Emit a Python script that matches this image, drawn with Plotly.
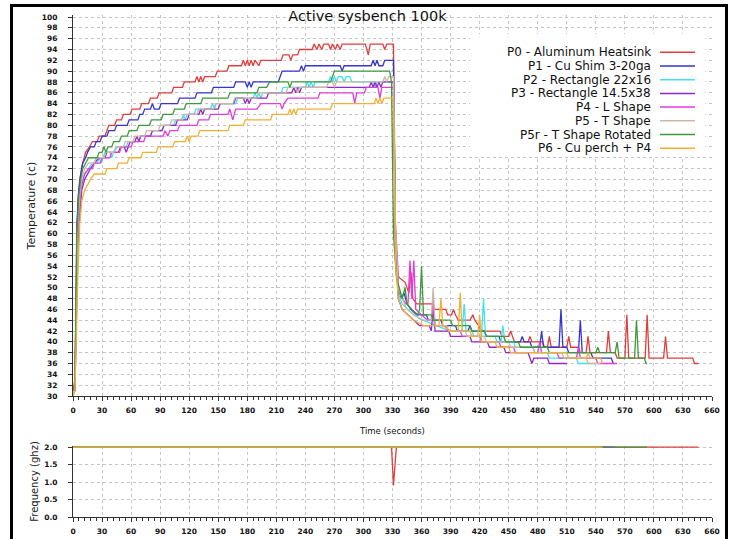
import plotly.graph_objects as go

# ---------------- data ----------------
series_names = [
    "P0 - Aluminum Heatsink", "P1 - Cu Shim 3-20ga", "P2 - Rectangle 22x16",
    "P3 - Rectangle 14.5x38", "P4 - L Shape", "P5 - T Shape",
    "P5r - T Shape Rotated", "P6 - Cu perch + P4",
]
series_colors = ["#e23c3c", "#3535d0", "#3fe3f0", "#9326c8",
                 "#e03ce0", "#cbb9a5", "#3c9a3c", "#f0b030"]

p0_t = [0, 2, 5, 7, 10, 13, 17, 20, 25, 27, 33, 35, 37, 43, 45, 50, 52, 59, 61, 69, 71, 78, 80, 87, 89, 102, 104,
        113, 115, 126, 128, 130, 132, 134, 136, 147, 149, 159, 161, 174, 176, 178, 180, 182, 184, 186, 188, 192,
        194, 215, 217, 223, 225, 227, 232, 234, 247, 249, 252, 254, 257, 259, 264, 266, 268, 271, 273, 276, 278,
        302, 305, 307, 320, 322, 324, 331,
        333, 336, 343, 347, 349, 351, 355, 371, 373, 385, 387, 391, 393, 395, 398, 410, 413, 415, 419, 422, 441,
        443, 450, 452, 454, 456, 470, 472, 474, 485, 487, 490, 492, 494, 510, 512, 514, 522, 524, 530, 532, 534,
        551, 553, 555, 560, 562, 570, 572, 574, 591, 593, 595, 610, 612, 614, 640, 642, 646]
p0_c = [31, 33, 66, 70, 73, 75, 76, 77, 77, 78, 78, 79, 80, 80, 81, 81, 82, 82, 83, 83, 84, 84, 85, 85, 86, 86, 87,
        87, 88, 88, 89, 88, 89, 88, 89, 89, 90, 90, 91, 91, 92, 91, 92, 91, 92, 91, 92, 91,
        92, 92, 93, 93, 92, 93, 93, 94, 94, 95, 94, 95, 94, 95, 95, 94, 95, 94, 95, 94, 95,
        95, 93, 95, 95, 94, 95, 95,
        62, 52, 51, 49, 53, 48, 47, 47, 46, 46, 45, 45, 46, 45, 44, 44, 45, 44, 43, 42, 42,
        41, 41, 42, 41, 40, 40, 41, 40, 40, 39, 39, 41, 39, 39, 41, 39, 39, 38, 38, 41, 38,
        38, 42, 38, 38, 37, 37, 45, 37, 37, 45, 37, 37, 41, 37, 37, 36, 36]

p1_t = [0, 2, 4, 6, 8, 10, 13, 15, 18, 22, 24, 28, 30, 35, 37, 43, 45, 56, 58, 67, 69, 72, 74, 80, 82, 84, 89, 91,
        108, 110, 126, 128, 143, 145, 166, 168, 178, 180, 182, 184, 186, 212, 214, 216, 234, 236, 238, 240, 276,
        278, 280, 308, 310, 312, 314, 316, 320, 322, 331,
        333, 336, 339, 342, 345, 349, 355, 365, 367, 380, 382, 395, 397, 408, 410, 412, 425, 427, 440, 442, 462,
        464, 466, 472, 474, 482, 484, 486, 502, 504, 506, 510, 512, 522, 524, 526, 535, 537, 556, 558]
p1_c = [31, 32, 62, 68, 71, 73, 74, 75, 76, 76, 77, 77, 78, 78, 79, 79, 80, 80, 81, 81, 82, 82, 83, 83, 84, 83, 83, 84,
        84, 85, 85, 86, 86, 87, 87, 88, 88, 87, 88, 87, 88, 88, 89, 90, 90, 91, 90, 91, 91,
        90, 91, 91, 92, 91, 92, 91, 91, 92, 92,
        60, 50, 48, 49, 47, 46, 45, 45, 44, 44, 43, 43, 42, 42, 43, 42, 42, 41, 41, 40, 40,
        41, 40, 40, 39, 39, 42, 39, 39, 46, 39, 39, 38, 38, 44, 38, 38, 37, 37, 36]

p2_t = [0, 2, 5, 7, 9, 12, 16, 20, 25, 27, 29, 31, 33, 38, 40, 42, 46, 55, 57, 68, 70, 80, 82, 92, 94, 104, 106,
        112, 114, 116, 118, 125, 127, 142, 144, 146, 148, 168, 170, 186, 188, 190, 192, 194, 196, 215, 217, 240,
        242, 244, 246, 248, 250, 264, 266, 268, 270, 272, 274, 278, 280, 282, 286, 288, 310, 312, 314, 331,
        333, 336, 340, 346, 352, 362, 375, 390, 402, 404, 406, 412, 414, 422, 424, 426, 436, 438, 442, 444, 446,
        455, 457, 475, 477, 490, 492, 520, 522, 539]
p2_c = [30, 31, 60, 66, 69, 71, 72, 73, 73, 74, 73, 74, 75, 75, 74, 75, 76, 76, 77, 77, 78, 78, 79, 79, 80, 80, 81,
        81, 82, 81, 82, 82, 83, 83, 84, 83, 84, 84, 85, 85, 86, 85, 86, 85, 86, 86, 87, 87,
        88, 87, 88, 87, 88, 88, 89, 88, 89, 88, 89, 89, 88, 89, 89, 88, 88, 87, 88, 88,
        60, 49, 47, 46, 45, 44, 43, 42, 42, 47, 42, 42, 41, 41, 48, 41, 41, 40, 40, 43, 40,
        40, 39, 39, 38, 38, 37, 37, 36, 36]

p3_t = [0, 2, 5, 7, 9, 12, 15, 18, 22, 27, 33, 35, 47, 49, 53, 55, 57, 59, 64, 66, 68, 70, 80, 82, 92, 94, 106, 108,
        118, 120, 130, 132, 134, 136, 150, 152, 166, 168, 176, 178, 180, 182, 184, 200, 202, 226, 228, 230, 232,
        234, 236, 306, 308, 310, 312, 314, 316, 318, 320, 331,
        333, 336, 340, 346, 352, 358, 368, 370, 372, 374, 388, 390, 410, 412, 428, 430, 445, 447, 470, 472, 474,
        476, 490, 492, 510]
p3_c = [31, 31, 58, 64, 68, 70, 71, 72, 73, 74, 74, 75, 75, 76, 76, 75, 76, 77, 77, 78, 77, 78, 78, 79, 79, 80, 80, 81,
        81, 82, 82, 83, 82, 83, 83, 84, 84, 85, 85, 84, 85, 84, 85, 85, 86, 86, 87, 86, 87,
        86, 87, 87, 88, 87, 88, 87, 88, 87, 88, 88,
        58, 48, 46, 45, 44, 43, 43, 42, 46, 42, 42, 41, 41, 40, 40, 39, 39, 38, 38, 37, 36,
        37, 37, 36, 36]

p4_t = [0, 2, 5, 7, 9, 12, 16, 20, 22, 28, 30, 38, 40, 48, 50, 60, 62, 73, 75, 93, 95, 98, 100, 108, 110, 128, 130,
        140, 142, 160, 162, 165, 168, 190, 194, 214, 216, 218, 222, 253, 255, 289, 291, 293, 301, 303, 315, 317,
        319, 331,
        333, 336, 340, 344, 346, 348, 350, 352, 354, 360, 366, 370, 372, 374, 385, 387, 400, 402, 420, 422, 440,
        442, 455, 457, 480, 482, 484, 500, 502, 520, 522, 524, 540, 542, 562]
p4_c = [31, 32, 60, 66, 69, 71, 72, 72, 73, 73, 74, 74, 75, 75, 76, 76, 77, 77, 78, 78, 79, 78, 79, 79, 80, 80, 81,
        81, 82, 82, 83, 81, 83, 83, 84, 84, 83, 84, 85, 85, 86, 86, 84, 86, 86, 87, 87, 85,
        87, 87,
        60, 50, 48, 47, 47, 55, 48, 55, 46, 45, 44, 44, 48, 43, 43, 42, 42, 41, 41, 40, 40,
        39, 39, 38, 38, 40, 38, 38, 37, 37, 39, 37, 37, 36, 36]

p5_t = [0, 2, 5, 7, 9, 12, 16, 22, 24, 32, 34, 42, 44, 52, 54, 62, 64, 74, 76, 88, 90, 100, 102, 113, 115, 128, 130,
        145, 147, 165, 167, 190, 192, 220, 222, 230, 232, 234, 262, 264, 268, 270, 272, 320, 322, 324, 326, 331,
        333, 336, 340, 345, 352, 360, 370, 372, 374, 386, 388, 405, 407, 425, 427, 450, 452, 475, 477, 505, 507,
        530, 532, 545]
p5_c = [31, 32, 62, 67, 70, 72, 73, 73, 74, 74, 75, 75, 76, 76, 77, 77, 78, 78, 79, 79, 80, 80, 81, 81, 82, 82, 83,
        83, 84, 84, 85, 85, 86, 86, 87, 87, 86, 87, 87, 88, 88, 87, 88, 88, 89, 88, 89, 89,
        62, 50, 48, 46, 45, 44, 44, 50, 43, 43, 42, 42, 41, 41, 40, 40, 39, 39, 38, 38, 37,
        37, 36, 36]

p5r_t = [0, 2, 4, 6, 8, 10, 13, 16, 25, 27, 30, 32, 34, 36, 40, 42, 48, 50, 56, 58, 66, 68, 79, 81, 91, 93, 103,
         105, 115, 117, 132, 134, 160, 162, 190, 192, 200, 203, 222, 224, 226, 266, 268, 270, 327,
         329, 331, 334, 337, 340, 343, 345, 350, 356, 358, 360, 362, 370, 372, 390, 392, 410, 412, 425, 427, 445,
         447, 460, 462, 490, 492, 540, 542, 544, 560, 562, 564, 580, 582, 584, 590, 592, 593]
p5r_c = [31, 32, 60, 67, 70, 72, 73, 74, 74, 75, 75, 76, 75, 76, 76, 77, 77, 78, 78, 79, 79, 80, 80, 81, 81, 82, 82,
         83, 83, 84, 84, 85, 85, 86, 86, 87, 87, 88, 88, 87, 88, 88, 89, 90, 90,
         88, 60, 52, 50, 48, 50, 47, 46, 45, 46, 54, 45, 45, 44, 44, 43, 43, 42, 42, 41, 41,
         40, 40, 39, 39, 38, 38, 39, 38, 38, 40, 37, 37, 44, 37, 37, 36, 36]

p6_t = [0, 2, 5, 7, 9, 12, 15, 18, 22, 33, 35, 45, 47, 56, 58, 70, 72, 86, 88, 103, 105, 116, 118, 120, 122, 129,
        131, 160, 162, 176, 178, 204, 206, 222, 224, 226, 228, 230, 232, 266, 268, 311, 313, 315, 317, 319, 321,
        331,
        333, 336, 340, 346, 352, 362, 378, 380, 382, 390, 398, 400, 402, 410, 412, 418, 420, 422, 436, 438, 450,
        452, 510, 512, 530, 532, 534, 545, 547]
p6_c = [30, 31, 52, 62, 66, 68, 69, 70, 71, 71, 72, 72, 73, 73, 74, 74, 75, 75, 76, 76, 77, 77, 78, 77, 78, 78,
        79, 79, 80, 80, 81, 81, 82, 82, 83, 82, 83, 82, 83, 83, 84, 84, 85, 84, 85, 84, 85,
        85,
        55, 48, 46, 45, 44, 43, 43, 48, 43, 42, 42, 49, 42, 42, 41, 41, 45, 40, 40, 39, 39,
        38, 38, 37, 37, 38, 37, 37, 36]

temp_times = [p0_t, p1_t, p2_t, p3_t, p4_t, p5_t, p5r_t, p6_t]
temp_values = [p0_c, p1_c, p2_c, p3_c, p4_c, p5_c, p5r_c, p6_c]

# CPU frequency (GHz)
f0_t = [0, 329, 331, 334, 646]
f0_v = [2.0, 2.0, 0.9, 2.0, 2.0]
f1_t = [0, 558]; f1_v = [2.0, 2.0]
f2_t = [0, 539]; f2_v = [2.0, 2.0]
f3_t = [0, 510]; f3_v = [2.0, 2.0]
f4_t = [0, 562]; f4_v = [2.0, 2.0]
f5_t = [0, 545]; f5_v = [2.0, 2.0]
f5r_t = [0, 593]; f5r_v = [2.0, 2.0]
f6_t = [0, 547]; f6_v = [2.0, 2.0]
freq_times = [f0_t, f1_t, f2_t, f3_t, f4_t, f5_t, f5r_t, f6_t]
freq_values = [f0_v, f1_v, f2_v, f3_v, f4_v, f5_v, f5r_v, f6_v]

x_ticks = list(range(0, 661, 30))

# ---------------- figure ----------------
W, H = 735, 539
ML, MR, MT, MB = 73, 23, 15, 22
PW, PH = W - ML - MR, H - MT - MB
FONT = "DejaVu Sans"


def px(xp):
    return (xp - ML) / PW


def py(yp):
    return (H - MB - yp) / PH


fig = go.Figure()
for name, col, t, v in zip(series_names, series_colors, temp_times, temp_values):
    fig.add_trace(go.Scatter(x=t, y=v, mode="lines", name=name,
                             line=dict(color=col, width=1.3), xaxis="x", yaxis="y",
                             showlegend=False))
for name, col, t, v in zip(series_names, series_colors, freq_times, freq_values):
    fig.add_trace(go.Scatter(x=t, y=v, mode="lines", name=name,
                             line=dict(color=col, width=1.3), xaxis="x2", yaxis="y2",
                             showlegend=False))

tickfont = dict(family=FONT, size=7.5, color="#111", weight="bold")
common_x = dict(range=[0, 660], tickvals=x_ticks, showgrid=True, griddash="dot",
                gridcolor="#c4c4c4", gridwidth=1, showline=True, linecolor="#333",
                linewidth=1, ticks="outside", ticklen=4, tickcolor="#333",
                minor=dict(dtick=6, tick0=0, ticks="outside", ticklen=3, tickcolor="#333",
                           showgrid=False),
                tickfont=tickfont, zeroline=False, fixedrange=True, ticklabelstandoff=3,
                automargin=False)
common_y = dict(showgrid=True, griddash="dot", gridcolor="#c4c4c4", gridwidth=1,
                showline=True, linecolor="#333", linewidth=1, ticks="outside", ticklen=4,
                tickcolor="#333", tickfont=tickfont, zeroline=False, ticklabelstandoff=9,
                automargin=False)

top_bottom_px = 396
bot_top_px = 446

fig.update_layout(
    width=W, height=H,
    margin=dict(l=ML, r=MR, t=MT, b=MB, autoexpand=False),
    paper_bgcolor="white", plot_bgcolor="white",
    font=dict(family=FONT, color="#111"),
    title=dict(text="Active sysbench 100k", x=0.5, xref="container", xanchor="center",
               y=1 - 16 / H, yref="container", yanchor="middle",
               font=dict(family=FONT, size=14.5, color="#111")),
    xaxis=dict(domain=[0, 1], anchor="y",
               title=dict(text="Time (seconds)", font=dict(family=FONT, size=8.5, color="#111"),
                          standoff=14), **common_x),
    yaxis=dict(domain=[py(top_bottom_px), 1], anchor="x", range=[30, 100.37],
               tick0=30, dtick=2,
               title=dict(text="Temperature (c)", font=dict(family=FONT, size=11, color="#222"),
                          standoff=3), **common_y),
    xaxis2=dict(domain=[0, 1], anchor="y2", **common_x),
    yaxis2=dict(domain=[0, py(bot_top_px)], anchor="x2", range=[0, 2.03], tick0=0, dtick=0.5,
                tickformat=".1f",
                title=dict(text="Frequency (ghz)", font=dict(family=FONT, size=10, color="#222"),
                           standoff=3), **common_y),
)

# legend (text right-aligned, line sample on the right), drawn by hand
shapes = [dict(type="rect", xref="paper", yref="paper", x0=px(470), x1=px(705), y0=py(157), y1=py(34),
               fillcolor="white", line=dict(width=0), layer="above")]
annotations = []
row0, step = 52.3, 13.7
for i, (name, col) in enumerate(zip(series_names, series_colors)):
    yc = py(row0 + i * step)
    annotations.append(dict(text=name, xref="paper", yref="paper", x=px(653), y=yc,
                            xanchor="right", yanchor="middle", showarrow=False,
                            font=dict(family=FONT, size=12, color="#111")))
    shapes.append(dict(type="line", xref="paper", yref="paper", x0=px(660), x1=px(695), y0=yc, y1=yc,
                       line=dict(color=col, width=1.5), layer="above"))

# outer black frame
shapes.append(dict(type="rect", xref="paper", yref="paper", x0=px(11.5), x1=px(726.5),
                   y0=py(560), y1=py(5.5), line=dict(color="black", width=3),
                   fillcolor="rgba(0,0,0,0)", layer="above"))

fig.update_layout(shapes=shapes, annotations=annotations)
fig.write_html("out.html")
